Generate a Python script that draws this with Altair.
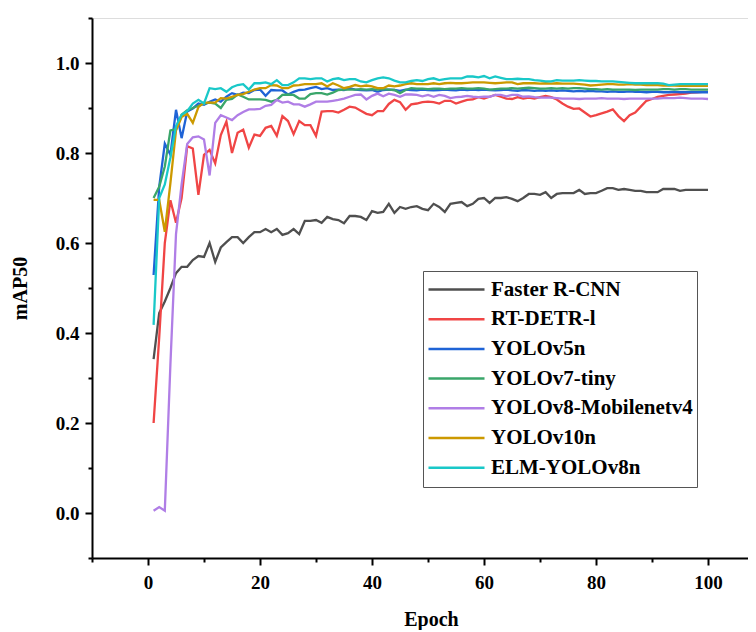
import altair as alt
import pandas as pd

epochs = list(range(1, 101))

series_names = ["Faster R-CNN", "RT-DETR-l", "YOLOv5n", "YOLOv7-tiny",
                "YOLOv8-Mobilenetv4", "YOLOv10n", "ELM-YOLOv8n"]
series_colors = ["#4f4f4f", "#f04545", "#1f63d6", "#3aa66a",
                 "#b07ee6", "#cc9900", "#19c8c8"]

faster_rcnn = [
    0.342, 0.444, 0.470, 0.500, 0.533, 0.547, 0.547, 0.562, 0.571, 0.569,
    0.600, 0.558, 0.590, 0.602, 0.613, 0.613, 0.600, 0.613, 0.624, 0.624,
    0.631, 0.624, 0.631, 0.618, 0.622, 0.631, 0.620, 0.649, 0.649, 0.651,
    0.645, 0.658, 0.653, 0.651, 0.644, 0.660, 0.660, 0.658, 0.651, 0.671,
    0.667, 0.669, 0.687, 0.667, 0.680, 0.676, 0.680, 0.682, 0.676, 0.673,
    0.687, 0.680, 0.669, 0.687, 0.689, 0.691, 0.682, 0.687, 0.698, 0.700,
    0.689, 0.700, 0.700, 0.702, 0.698, 0.693, 0.700, 0.709, 0.709, 0.707,
    0.713, 0.700, 0.709, 0.711, 0.711, 0.711, 0.718, 0.709, 0.711, 0.711,
    0.716, 0.722, 0.722, 0.718, 0.720, 0.718, 0.716, 0.716, 0.713, 0.713,
    0.713, 0.720, 0.720, 0.720, 0.716, 0.718, 0.718, 0.718, 0.718, 0.718]

rt_detr = [
    0.200, 0.390, 0.600, 0.695, 0.645, 0.700, 0.815, 0.810, 0.707, 0.796,
    0.807, 0.777, 0.840, 0.870, 0.800, 0.845, 0.852, 0.812, 0.841, 0.838,
    0.856, 0.860, 0.838, 0.882, 0.871, 0.842, 0.871, 0.862, 0.862, 0.838,
    0.892, 0.893, 0.893, 0.890, 0.896, 0.903, 0.901, 0.894, 0.887, 0.884,
    0.893, 0.893, 0.909, 0.918, 0.913, 0.896, 0.908, 0.910, 0.913, 0.914,
    0.913, 0.910, 0.916, 0.916, 0.910, 0.914, 0.918, 0.919, 0.924, 0.921,
    0.925, 0.929, 0.925, 0.921, 0.920, 0.924, 0.921, 0.923, 0.921, 0.924,
    0.927, 0.924, 0.919, 0.910, 0.903, 0.898, 0.899, 0.890, 0.881, 0.884,
    0.888, 0.892, 0.897, 0.882, 0.871, 0.884, 0.890, 0.903, 0.916, 0.920,
    0.925, 0.927, 0.929, 0.930, 0.931, 0.932, 0.934, 0.935, 0.936, 0.936]

yolov5n = [
    0.529, 0.725, 0.821, 0.796, 0.896, 0.833, 0.892, 0.899, 0.910, 0.907,
    0.914, 0.919, 0.914, 0.925, 0.933, 0.929, 0.934, 0.933, 0.940, 0.941,
    0.927, 0.940, 0.939, 0.939, 0.930, 0.936, 0.940, 0.941, 0.944, 0.947,
    0.942, 0.944, 0.940, 0.941, 0.940, 0.944, 0.941, 0.940, 0.939, 0.940,
    0.936, 0.940, 0.941, 0.940, 0.938, 0.941, 0.940, 0.939, 0.941, 0.940,
    0.939, 0.940, 0.941, 0.940, 0.939, 0.941, 0.940, 0.941, 0.940, 0.941,
    0.940, 0.939, 0.940, 0.941, 0.939, 0.938, 0.940, 0.939, 0.938, 0.939,
    0.938, 0.939, 0.938, 0.939, 0.938, 0.937, 0.938, 0.937, 0.938, 0.937,
    0.937, 0.936, 0.937, 0.936, 0.936, 0.937, 0.936, 0.936, 0.935, 0.936,
    0.936, 0.935, 0.935, 0.936, 0.935, 0.935, 0.935, 0.935, 0.935, 0.935]

yolov7_tiny = [
    0.700, 0.725, 0.770, 0.850, 0.853, 0.885, 0.895, 0.900, 0.905, 0.910,
    0.912, 0.910, 0.900, 0.918, 0.920, 0.930, 0.925, 0.919, 0.919, 0.919,
    0.918, 0.914, 0.918, 0.929, 0.930, 0.929, 0.921, 0.921, 0.931, 0.933,
    0.933, 0.930, 0.934, 0.940, 0.941, 0.941, 0.941, 0.942, 0.941, 0.942,
    0.941, 0.942, 0.941, 0.940, 0.933, 0.940, 0.944, 0.943, 0.943, 0.942,
    0.943, 0.943, 0.942, 0.943, 0.943, 0.944, 0.943, 0.943, 0.944, 0.943,
    0.941, 0.942, 0.943, 0.943, 0.944, 0.943, 0.944, 0.945, 0.944, 0.943,
    0.943, 0.944, 0.943, 0.944, 0.943, 0.944, 0.944, 0.943, 0.942, 0.942,
    0.941, 0.942, 0.941, 0.941, 0.941, 0.941, 0.940, 0.941, 0.941, 0.941,
    0.941, 0.942, 0.942, 0.941, 0.942, 0.942, 0.941, 0.941, 0.941, 0.941]

yolov8_mobilenetv4 = [
    0.005, 0.013, 0.005, 0.330, 0.620, 0.730, 0.820, 0.835, 0.837, 0.830,
    0.750, 0.867, 0.884, 0.879, 0.873, 0.884, 0.891, 0.897, 0.897, 0.898,
    0.905, 0.907, 0.918, 0.912, 0.914, 0.908, 0.908, 0.903, 0.908, 0.914,
    0.914, 0.914, 0.916, 0.918, 0.921, 0.925, 0.929, 0.930, 0.919, 0.927,
    0.932, 0.926, 0.932, 0.929, 0.925, 0.930, 0.930, 0.929, 0.926, 0.929,
    0.925, 0.929, 0.927, 0.922, 0.924, 0.925, 0.927, 0.925, 0.924, 0.925,
    0.925, 0.929, 0.929, 0.926, 0.929, 0.929, 0.925, 0.926, 0.924, 0.923,
    0.923, 0.923, 0.922, 0.921, 0.921, 0.921, 0.920, 0.921, 0.921, 0.921,
    0.922, 0.921, 0.921, 0.921, 0.920, 0.921, 0.921, 0.921, 0.921, 0.921,
    0.921, 0.922, 0.922, 0.922, 0.923, 0.922, 0.921, 0.921, 0.921, 0.920]

yolov10n = [
    0.696, 0.696, 0.625, 0.733, 0.850, 0.880, 0.887, 0.867, 0.902, 0.912,
    0.912, 0.912, 0.922, 0.921, 0.925, 0.929, 0.931, 0.936, 0.941, 0.944,
    0.944, 0.951, 0.950, 0.944, 0.944, 0.950, 0.951, 0.953, 0.953, 0.953,
    0.955, 0.948, 0.955, 0.950, 0.944, 0.947, 0.951, 0.948, 0.950, 0.948,
    0.944, 0.944, 0.950, 0.948, 0.950, 0.953, 0.955, 0.953, 0.953, 0.953,
    0.955, 0.953, 0.955, 0.956, 0.955, 0.955, 0.956, 0.957, 0.957, 0.957,
    0.956, 0.955, 0.956, 0.957, 0.957, 0.953, 0.955, 0.955, 0.955, 0.954,
    0.955, 0.954, 0.955, 0.954, 0.954, 0.954, 0.953, 0.952, 0.950, 0.951,
    0.952, 0.953, 0.953, 0.952, 0.952, 0.953, 0.952, 0.952, 0.951, 0.951,
    0.951, 0.950, 0.950, 0.950, 0.949, 0.949, 0.949, 0.949, 0.949, 0.949]

elm_yolov8n = [
    0.418, 0.700, 0.730, 0.790, 0.860, 0.885, 0.893, 0.910, 0.918, 0.910,
    0.944, 0.942, 0.944, 0.936, 0.946, 0.951, 0.953, 0.941, 0.955, 0.955,
    0.957, 0.953, 0.962, 0.951, 0.951, 0.957, 0.966, 0.966, 0.964, 0.966,
    0.966, 0.959, 0.964, 0.966, 0.962, 0.964, 0.964, 0.959, 0.957, 0.962,
    0.966, 0.968, 0.966, 0.961, 0.957, 0.957, 0.960, 0.962, 0.960, 0.964,
    0.966, 0.962, 0.964, 0.966, 0.966, 0.966, 0.970, 0.970, 0.968, 0.971,
    0.966, 0.970, 0.967, 0.964, 0.964, 0.965, 0.964, 0.964, 0.962, 0.961,
    0.959, 0.959, 0.962, 0.961, 0.961, 0.961, 0.962, 0.961, 0.960, 0.960,
    0.959, 0.959, 0.959, 0.958, 0.957, 0.956, 0.955, 0.955, 0.955, 0.955,
    0.955, 0.954, 0.951, 0.952, 0.953, 0.953, 0.953, 0.953, 0.953, 0.953]

x_tick_values = [-10, 0, 10, 20, 30, 40, 50, 60, 70, 80, 90, 100]
y_tick_values = [-0.1, 0.0, 0.1, 0.2, 0.3, 0.4, 0.5, 0.6, 0.7, 0.8, 0.9, 1.0, 1.1]

all_series = [faster_rcnn, rt_detr, yolov5n, yolov7_tiny,
              yolov8_mobilenetv4, yolov10n, elm_yolov8n]

rows = []
for name, vals in zip(series_names, all_series):
    for e, v in zip(epochs, vals):
        rows.append({"Epoch": e, "mAP50": v, "Model": name})
df = pd.DataFrame(rows)

FONT = "Liberation Serif"

x_axis = alt.Axis(
    values=x_tick_values,
    format="d",
    labelExpr="datum.value % 20 == 0 ? datum.label : ''",
    tickSize={"condition": {"test": "datum.value % 20 != 0", "value": 4}, "value": 7},
    tickWidth=2, tickColor="black",
    domainColor="black", domainWidth=2,
    grid=False,
    labelFont=FONT, labelFontSize=19, labelFontWeight="bold", labelColor="black",
    labelPadding=8, labelFlush=False, labelOverlap=False,
    title="Epoch", titleFont=FONT, titleFontSize=20, titleFontWeight="bold",
    titleColor="black", titleX=339, titleY=61, titleBaseline="middle", titleAlign="center",
)

y_axis = alt.Axis(
    values=y_tick_values,
    labelExpr="round(datum.value * 10) % 2 == 0 ? format(datum.value, '.1f') : ''",
    tickSize={"condition": {"test": "round(datum.value * 10) % 2 != 0", "value": 4}, "value": 7},
    tickWidth=2, tickColor="black",
    domainColor="black", domainWidth=2,
    grid=False,
    labelFont=FONT, labelFontSize=19, labelFontWeight="bold", labelColor="black",
    labelPadding=6, labelFlush=False, labelOverlap=False,
    title="mAP50", titleFont=FONT, titleFontSize=20, titleFontWeight="bold",
    titleColor="black", titleX=-72, titleY=270, titleBaseline="middle", titleAlign="center",
)

legend = alt.Legend(
    title=None, orient="none", legendX=331, legendY=253,
    symbolType="stroke", symbolSize=3136, symbolStrokeWidth=2.5,
    clipHeight=29, rowPadding=0.7,
    labelFont=FONT, labelFontSize=21, labelFontWeight="bold", labelColor="black",
    labelOffset=5, labelLimit=0,
    labelExpr="datum.label == 'ELM-YOLOv8n' ? '\u2002ELM-YOLOv8n' : datum.label",
    padding=4, strokeColor="#555555", fillColor="white",
)

chart = alt.Chart(df).mark_line(strokeWidth=2.3, clip=True).encode(
    x=alt.X("Epoch:Q", scale=alt.Scale(domain=[-10, 107.14], nice=False, zero=False), axis=x_axis),
    y=alt.Y("mAP50:Q", scale=alt.Scale(domain=[-0.1, 1.1], nice=False, zero=False), axis=y_axis),
    color=alt.Color("Model:N", scale=alt.Scale(domain=series_names, range=series_colors),
                    sort=series_names, legend=legend),
).properties(
    width=656, height=540,
    autosize=alt.AutoSizeParams(type="none"),
    padding={"left": 84, "top": 10, "right": 0, "bottom": 72},
).configure_view(strokeWidth=0).configure(background="white")

chart.save("out.html", embed_options={"renderer": "svg", "actions": False})
